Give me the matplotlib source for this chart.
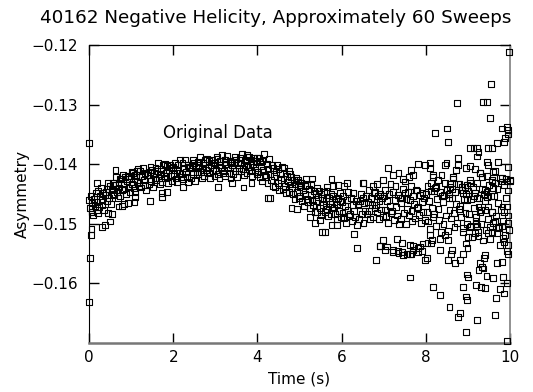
"""
Scatter of asymmetry versus time, run 40162 (negative helicity, ~60 sweeps).
"""
import numpy as np
import matplotlib
matplotlib.use('Agg')
import matplotlib.pyplot as plt


# main band, one row per 0.2 s, ten samples each (sample period 0.02 s)
sample_dt = 0.02
band_asym = [
    [-0.1460, -0.1473, -0.1454, -0.1480, -0.1465, -0.1486, -0.1458, -0.1470, -0.1448, -0.1477],
    [-0.1464, -0.1445, -0.1472, -0.1453, -0.1439, -0.1460, -0.1468, -0.1448, -0.1477, -0.1451],
    [-0.1446, -0.1462, -0.1441, -0.1432, -0.1456, -0.1437, -0.1467, -0.1443, -0.1452, -0.1435],
    [-0.1450, -0.1435, -0.1421, -0.1446, -0.1456, -0.1431, -0.1439, -0.1453, -0.1425, -0.1443],
    [-0.1418, -0.1434, -0.1442, -0.1422, -0.1450, -0.1429, -0.1420, -0.1439, -0.1425, -0.1447],
    [-0.1420, -0.1433, -0.1414, -0.1440, -0.1425, -0.1446, -0.1418, -0.1430, -0.1408, -0.1437],
    [-0.1431, -0.1412, -0.1439, -0.1420, -0.1406, -0.1427, -0.1435, -0.1415, -0.1444, -0.1418],
    [-0.1418, -0.1434, -0.1413, -0.1404, -0.1428, -0.1409, -0.1439, -0.1415, -0.1424, -0.1407],
    [-0.1427, -0.1412, -0.1398, -0.1423, -0.1433, -0.1408, -0.1416, -0.1430, -0.1402, -0.1420],
    [-0.1399, -0.1415, -0.1423, -0.1403, -0.1431, -0.1410, -0.1401, -0.1420, -0.1406, -0.1428],
    [-0.1404, -0.1417, -0.1398, -0.1424, -0.1409, -0.1430, -0.1402, -0.1414, -0.1392, -0.1421],
    [-0.1417, -0.1398, -0.1425, -0.1406, -0.1392, -0.1413, -0.1421, -0.1401, -0.1430, -0.1404],
    [-0.1407, -0.1423, -0.1402, -0.1393, -0.1417, -0.1398, -0.1428, -0.1404, -0.1413, -0.1396],
    [-0.1417, -0.1402, -0.1388, -0.1413, -0.1423, -0.1398, -0.1406, -0.1420, -0.1392, -0.1410],
    [-0.1391, -0.1407, -0.1415, -0.1395, -0.1423, -0.1402, -0.1393, -0.1412, -0.1398, -0.1420],
    [-0.1397, -0.1410, -0.1391, -0.1417, -0.1402, -0.1423, -0.1395, -0.1407, -0.1385, -0.1414],
    [-0.1411, -0.1392, -0.1419, -0.1400, -0.1386, -0.1407, -0.1415, -0.1395, -0.1424, -0.1398],
    [-0.1401, -0.1417, -0.1396, -0.1387, -0.1411, -0.1392, -0.1422, -0.1398, -0.1407, -0.1390],
    [-0.1412, -0.1397, -0.1383, -0.1408, -0.1418, -0.1393, -0.1401, -0.1415, -0.1387, -0.1405],
    [-0.1388, -0.1404, -0.1412, -0.1392, -0.1420, -0.1399, -0.1390, -0.1409, -0.1395, -0.1417],
    [-0.1397, -0.1413, -0.1390, -0.1421, -0.1403, -0.1429, -0.1395, -0.1409, -0.1383, -0.1418],
    [-0.1421, -0.1399, -0.1431, -0.1408, -0.1391, -0.1417, -0.1426, -0.1402, -0.1437, -0.1406],
    [-0.1419, -0.1438, -0.1413, -0.1402, -0.1431, -0.1408, -0.1444, -0.1415, -0.1426, -0.1405],
    [-0.1442, -0.1424, -0.1407, -0.1437, -0.1449, -0.1419, -0.1429, -0.1446, -0.1412, -0.1434],
    [-0.1421, -0.1440, -0.1450, -0.1426, -0.1459, -0.1434, -0.1423, -0.1446, -0.1429, -0.1456],
    [-0.1438, -0.1454, -0.1431, -0.1462, -0.1444, -0.1470, -0.1436, -0.1450, -0.1424, -0.1459],
    [-0.1464, -0.1442, -0.1474, -0.1451, -0.1434, -0.1460, -0.1469, -0.1445, -0.1480, -0.1449],
    [-0.1461, -0.1480, -0.1455, -0.1444, -0.1473, -0.1450, -0.1486, -0.1457, -0.1468, -0.1447],
    [-0.1480, -0.1462, -0.1445, -0.1475, -0.1487, -0.1457, -0.1467, -0.1484, -0.1450, -0.1472],
    [-0.1454, -0.1473, -0.1483, -0.1459, -0.1492, -0.1467, -0.1456, -0.1479, -0.1462, -0.1489],
    [-0.1463, -0.1481, -0.1454, -0.1491, -0.1470, -0.1499, -0.1460, -0.1477, -0.1446, -0.1487],
    [-0.1484, -0.1457, -0.1495, -0.1468, -0.1449, -0.1478, -0.1489, -0.1461, -0.1502, -0.1466],
    [-0.1469, -0.1492, -0.1462, -0.1450, -0.1483, -0.1457, -0.1499, -0.1465, -0.1478, -0.1454],
    [-0.1484, -0.1463, -0.1443, -0.1478, -0.1492, -0.1457, -0.1469, -0.1488, -0.1449, -0.1474],
    [-0.1447, -0.1469, -0.1481, -0.1453, -0.1492, -0.1462, -0.1450, -0.1476, -0.1457, -0.1488],
    [-0.1453, -0.1476, -0.1443, -0.1487, -0.1462, -0.1498, -0.1450, -0.1470, -0.1433, -0.1482],
    [-0.1479, -0.1447, -0.1493, -0.1460, -0.1436, -0.1472, -0.1486, -0.1452, -0.1501, -0.1457],
    [-0.1465, -0.1492, -0.1456, -0.1441, -0.1482, -0.1449, -0.1500, -0.1459, -0.1475, -0.1446],
    [-0.1486, -0.1460, -0.1437, -0.1479, -0.1496, -0.1454, -0.1467, -0.1491, -0.1443, -0.1474],
    [-0.1444, -0.1472, -0.1485, -0.1451, -0.1499, -0.1463, -0.1448, -0.1480, -0.1456, -0.1494],
    [-0.1450, -0.1480, -0.1436, -0.1496, -0.1461, -0.1509, -0.1445, -0.1473, -0.1422, -0.1489],
    [-0.1484, -0.1440, -0.1503, -0.1459, -0.1427, -0.1475, -0.1493, -0.1447, -0.1514, -0.1454],
    [-0.1463, -0.1500, -0.1452, -0.1431, -0.1486, -0.1443, -0.1512, -0.1456, -0.1477, -0.1438],
    [-0.1491, -0.1456, -0.1424, -0.1482, -0.1505, -0.1447, -0.1466, -0.1498, -0.1433, -0.1475],
    [-0.1433, -0.1470, -0.1489, -0.1443, -0.1507, -0.1459, -0.1438, -0.1482, -0.1450, -0.1500],
    [-0.1444, -0.1483, -0.1426, -0.1504, -0.1459, -0.1522, -0.1438, -0.1474, -0.1408, -0.1495],
    [-0.1489, -0.1432, -0.1513, -0.1456, -0.1414, -0.1477, -0.1501, -0.1441, -0.1528, -0.1450],
    [-0.1462, -0.1510, -0.1447, -0.1420, -0.1492, -0.1435, -0.1525, -0.1453, -0.1480, -0.1429],
    [-0.1498, -0.1453, -0.1411, -0.1486, -0.1516, -0.1441, -0.1465, -0.1507, -0.1423, -0.1477],
    [-0.1423, -0.1471, -0.1495, -0.1435, -0.1519, -0.1456, -0.1429, -0.1486, -0.1444, -0.1510],
]

# points lying off the main band, read one by one
stray_time = [
    0.00, 0.00, 0.02, 0.06, 0.04, 0.06, 0.63, 0.18, 0.30, 0.39, 0.50, 0.46, 0.55, 0.22,
    0.70, 0.78, 0.84, 0.93, 1.08, 1.09, 1.45, 1.73, 1.74, 1.85, 1.01, 1.13, 1.08, 0.74, 0.58,
    2.24, 3.03, 3.23, 3.75, 3.98, 4.06, 3.07, 3.39, 3.67, 3.86, 4.26, 4.30,
    4.77, 4.97, 5.01, 5.29, 5.17, 5.42, 5.76, 5.79, 5.92, 5.66, 5.96,
    4.81, 4.93, 5.25, 5.37, 5.49, 5.53, 5.61, 5.76, 5.88, 6.12, 6.52, 6.36, 6.30,
    6.82, 7.62, 7.97, 6.90, 7.03, 7.23, 7.35, 7.45, 7.55, 7.62, 7.66, 7.82, 7.90,
    7.62, 7.70, 7.31, 7.43, 7.92, 8.04, 7.10, 7.22, 7.35, 7.65, 7.82, 7.97, 7.70, 7.60,
    6.50, 6.75, 6.85, 6.99, 6.05, 7.50, 7.45, 6.99, 6.91, 7.07, 7.23, 7.33, 7.43, 7.70,
    7.82, 7.86,
    9.98, 9.55, 8.73, 9.35, 9.45, 9.52, 9.92, 9.80, 9.94, 9.95, 8.22, 8.51, 8.53,
    9.88, 9.86, 9.68, 9.56, 9.48, 9.21, 9.25, 9.21, 9.05, 9.13, 8.77, 8.49, 8.46, 9.72,
    9.46, 9.94, 10.0, 9.05, 8.95, 9.47, 9.60, 9.29, 9.33, 9.56, 9.64, 9.80, 9.90, 9.60,
    9.41, 9.45, 8.09, 8.09, 8.76, 8.72, 8.37, 8.17, 8.65, 9.99, 8.97, 9.05, 8.85, 8.89,
    8.97, 9.17, 9.14, 9.21, 8.12, 8.20, 8.25, 8.58, 8.62, 8.55,
    9.92, 9.86, 9.94, 9.25, 9.29, 9.41, 9.48, 9.56, 9.64, 9.72, 9.80, 9.84, 9.76, 9.85,
    9.94, 9.93, 9.95, 9.52, 9.56, 9.48, 9.18, 9.22, 9.16, 9.25, 9.05, 8.89, 9.01, 8.95,
    8.99, 8.89, 8.81, 9.41, 9.38, 9.29, 9.33, 9.25, 9.68, 9.80, 9.84, 9.92, 9.60, 9.67,
    9.64, 9.21, 8.89, 8.95, 8.97, 8.81, 8.77, 8.95, 8.56, 8.34, 8.16, 9.93, 8.02, 8.34,
    8.53, 8.60, 8.62, 8.53, 8.46, 8.34, 8.14, 8.10, 8.12, 8.69, 8.98, 9.00, 9.37, 9.44,
    9.20, 9.30, 9.40, 9.75, 9.85,
]
stray_asym = [
    -0.1365, -0.1631, -0.1557, -0.1509, -0.1519, -0.1480, -0.1409, -0.1432, -0.1505, -0.1502,
    -0.1496, -0.1482, -0.1484, -0.1482,
    -0.1471, -0.1470, -0.1466, -0.1465, -0.1463, -0.1455, -0.1462, -0.1449, -0.1455, -0.1446,
    -0.1413, -0.1411, -0.1418, -0.1424, -0.1432,
    -0.1438, -0.1387, -0.1392, -0.1385, -0.1390, -0.1396, -0.1438, -0.1432, -0.1439, -0.1432,
    -0.1457, -0.1456,
    -0.1417, -0.1427, -0.1435, -0.1424, -0.1435, -0.1440, -0.1425, -0.1436, -0.1435, -0.1438,
    -0.1449,
    -0.1474, -0.1475, -0.1488, -0.1499, -0.1494, -0.1513, -0.1513, -0.1502, -0.1502, -0.1432,
    -0.1432, -0.1540, -0.1517,
    -0.1560, -0.1590, -0.1560, -0.1537, -0.1544, -0.1548, -0.1549, -0.1552, -0.1550, -0.1550,
    -0.1551, -0.1541, -0.1545,
    -0.1536, -0.1537, -0.1526, -0.1532, -0.1533, -0.1532, -0.1406, -0.1418, -0.1414, -0.1410,
    -0.1400, -0.1402, -0.1418, -0.1421,
    -0.1432, -0.1436, -0.1433, -0.1427, -0.1436, -0.1429, -0.1425, -0.1527, -0.1537, -0.1538,
    -0.1544, -0.1545, -0.1547, -0.1544,
    -0.1547, -0.1538,
    -0.1211, -0.1266, -0.1297, -0.1295, -0.1295, -0.1322, -0.1338, -0.1340, -0.1350, -0.1343,
    -0.1347, -0.1340, -0.1362,
    -0.1356, -0.1362, -0.1365, -0.1373, -0.1373, -0.1373, -0.1379, -0.1387, -0.1373, -0.1372,
    -0.1390, -0.1398, -0.1401, -0.1396,
    -0.1396, -0.1404, -0.1428, -0.1403, -0.1407, -0.1401, -0.1413, -0.1415, -0.1421, -0.1427,
    -0.1432, -0.1429, -0.1424, -0.1440,
    -0.1443, -0.1455, -0.1398, -0.1406, -0.1401, -0.1409, -0.1418, -0.1418, -0.1421, -0.1427,
    -0.1435, -0.1431, -0.1438, -0.1449,
    -0.1460, -0.1449, -0.1453, -0.1457, -0.1432, -0.1445, -0.1438, -0.1433, -0.1442, -0.1450,
    -0.1471, -0.1480, -0.1498, -0.1471, -0.1481, -0.1477, -0.1471, -0.1480, -0.1496, -0.1505,
    -0.1504, -0.1524, -0.1536, -0.1530,
    -0.1536, -0.1545, -0.1550, -0.1505, -0.1513, -0.1516, -0.1501, -0.1504, -0.1516, -0.1520,
    -0.1505, -0.1513, -0.1522, -0.1533,
    -0.1541, -0.1550, -0.1561, -0.1552, -0.1558, -0.1566, -0.1572, -0.1578, -0.1566, -0.1564,
    -0.1589, -0.1600, -0.1591, -0.1625,
    -0.1653, -0.1661, -0.1606, -0.1622, -0.1628, -0.1650, -0.1656, -0.1681, -0.1639, -0.1619,
    -0.1606, -0.1697, -0.1558, -0.1544,
    -0.1561, -0.1551, -0.1544, -0.1527, -0.1519, -0.1525, -0.1527, -0.1519, -0.1533, -0.1566,
    -0.1585, -0.1590, -0.1575, -0.1587,
    -0.1603, -0.1606, -0.1608, -0.1610, -0.1617,
]

x_ticks = [0, 2, 4, 6, 8, 10]
y_ticks = [-0.16, -0.15, -0.14, -0.13, -0.12]


def plot_asymmetry():
    band = np.array(band_asym).ravel()
    band_time = np.arange(band.size) * sample_dt

    time = np.concatenate([band_time, stray_time])
    asym = np.concatenate([band, stray_asym])

    fig = plt.figure(figsize=(5.33, 3.92), dpi=100)
    ax = fig.add_axes([0.167, 0.125, 0.790, 0.760])

    ax.scatter(time, asym, marker='s', s=18, facecolors='none',
               edgecolors='black', linewidths=0.8, clip_on=False, zorder=3)

    ax.set_xlim(0, 10)
    ax.set_ylim(-0.17, -0.12)
    ax.set_xticks(x_ticks)
    ax.set_yticks(y_ticks)
    ax.set_xticklabels([str(t) for t in x_ticks])
    ax.set_yticklabels(['\u22120.16', '\u22120.15', '\u22120.14', '\u22120.13', '\u22120.12'])

    ax.tick_params(direction='in', length=7, width=1, top=True, right=True,
                   labelsize=11, pad=8)
    ax.tick_params(axis='x', pad=5)

    ax.spines['left'].set_color('black')
    ax.spines['top'].set_color('black')
    ax.spines['bottom'].set_color('#777777')
    ax.spines['bottom'].set_linewidth(1.8)
    ax.spines['right'].set_color('#888888')
    ax.spines['right'].set_linewidth(1.3)

    # title sits centred on the page rather than on the axes
    fig.text(0.518, 0.953, '40162 Negative Helicity, Approximately 60 Sweeps',
             fontsize=13.2, ha='center', va='center')
    ax.set_xlabel('Time (s)', fontsize=11, labelpad=5)
    ax.set_ylabel('Asymmetry', fontsize=11, labelpad=1)
    ax.text(1.76, -0.1348, 'Original Data', fontsize=12, va='center', ha='left')

    fig.savefig('out.png', dpi=100)


if __name__ == '__main__':
    plot_asymmetry()
